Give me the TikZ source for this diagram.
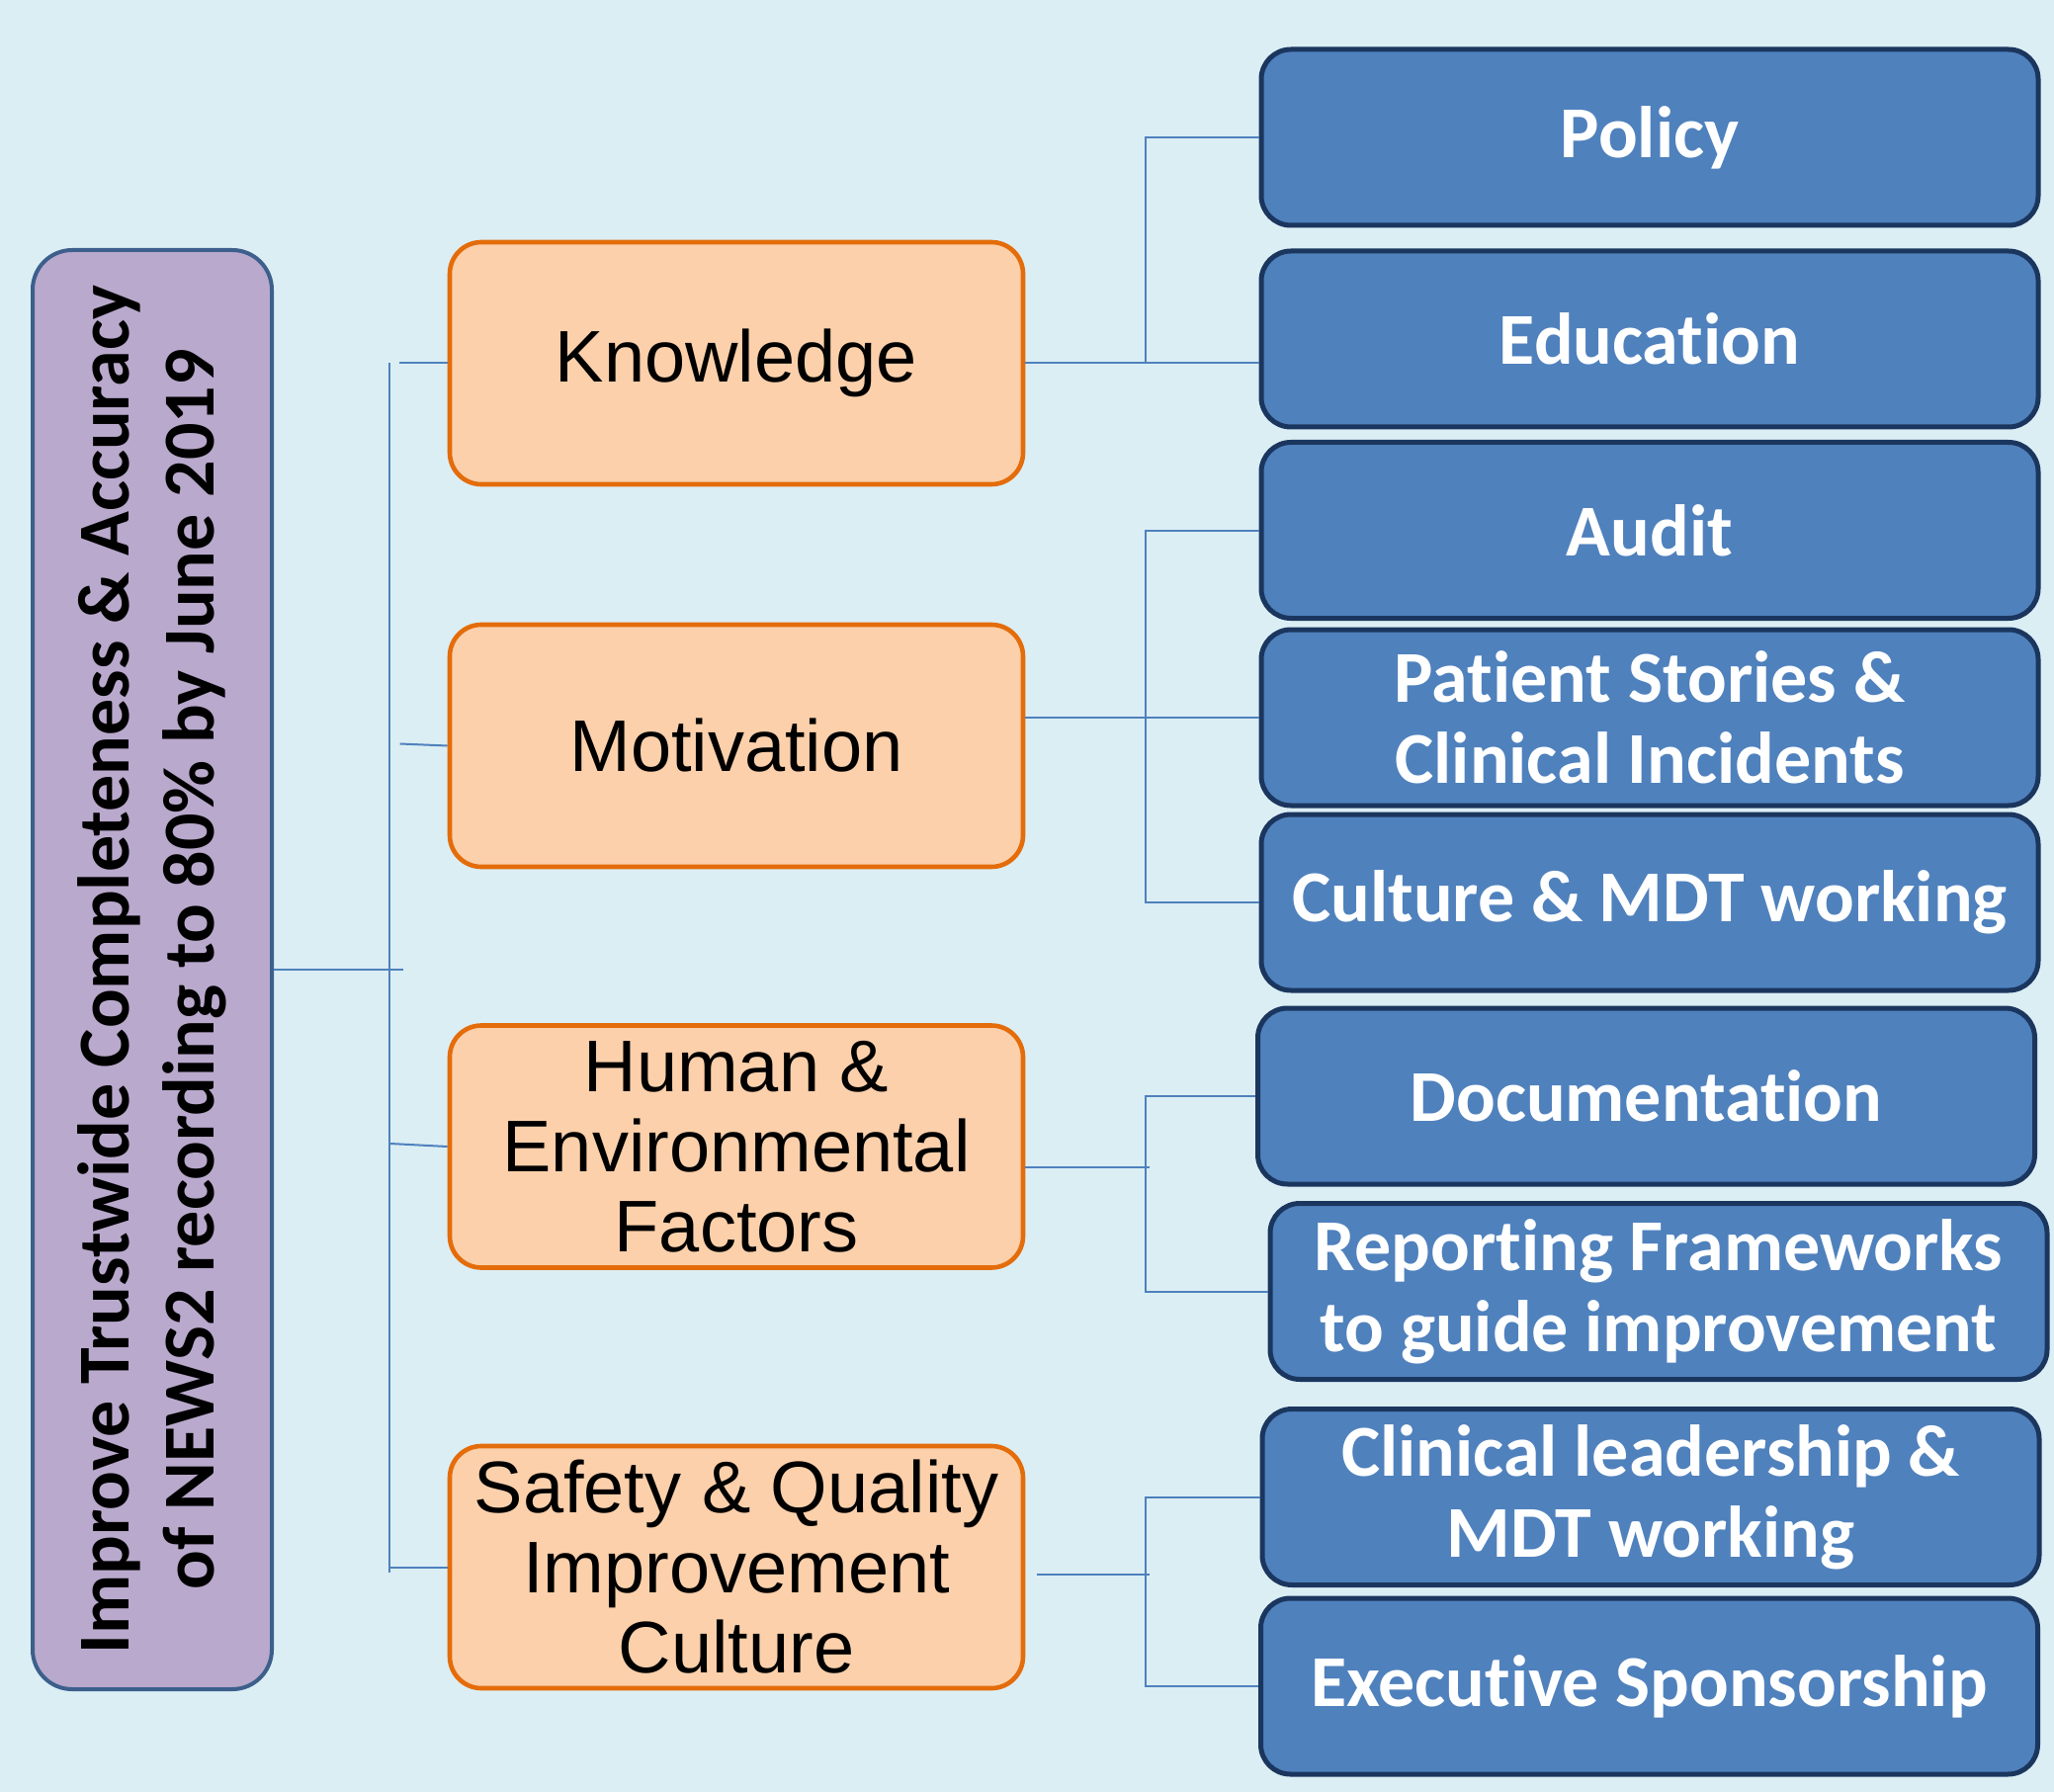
\documentclass[tikz,border=0pt]{standalone}
\usepackage{fontspec}
\setmainfont{Carlito}[Ligatures={NoCommon}]
\newfontfamily\driverfont{Liberation Sans}
\usetikzlibrary{positioning}

\definecolor{bgblue}{HTML}{DBEEF4}
\definecolor{goalfill}{HTML}{B9A9CC}
\definecolor{goaldraw}{HTML}{3C5F8C}
\definecolor{driverfill}{HTML}{FBD0AB}
\definecolor{driverdraw}{HTML}{E46C0A}
\definecolor{ideafill}{HTML}{4F81BD}
\definecolor{ideadraw}{HTML}{1B365E}
\definecolor{linkblue}{HTML}{4F81BD}

\tikzset{
  goal/.style={draw=goaldraw, fill=goalfill, line width=2pt, rounded corners=20pt,
    rotate=90, minimum width=728pt, minimum height=121pt, inner sep=0pt,
    align=center, font=\fontsize{37}{43}\selectfont\bfseries},
  driver/.style={draw=driverdraw, fill=driverfill, line width=2.3pt, rounded corners=16pt,
    minimum width=290pt, minimum height=122.5pt, inner sep=0pt,
    align=center, font=\driverfont\fontsize{37}{40.5}\selectfont},
  idea/.style={draw=ideadraw, fill=ideafill, line width=2.5pt, rounded corners=15pt,
    minimum width=393pt, minimum height=89pt, inner sep=0pt, text=white,
    align=center, font=\fontsize{37}{41}\selectfont\bfseries},
  link/.style={draw=linkblue, line width=1pt}
}

\begin{document}
\begin{tikzpicture}[x=0.5pt, y=-0.5pt]
\fill[bgblue] (0,0) rectangle (2078,1813);
\useasboundingbox (0,0) rectangle (2078,1813);

% aim
\node[goal] (goal) at (154,981) {Improve Trustwide Completeness \& Accuracy\\of NEWS2 recording to 80\% by June 2019};

% primary drivers
\node[driver] (knowledge) at (745,367.5) {Knowledge};
\node[driver] (motivation) at (745,754.5) {Motivation};
\node[driver] (human) at (745,1160) {Human \&\\Environmental\\Factors};
\node[driver] (safety) at (745,1585.5) {Safety \& Quality\\Improvement\\Culture};

% secondary drivers
\node[idea] (policy) at (1669,139) {Policy};
\node[idea] (education) at (1669,343) {Education};
\node[idea] (audit) at (1669,536.5) {Audit};
\node[idea] (patient) at (1669,726) {Patient Stories \&\\Clinical Incidents};
\node[idea] (culture) at (1669,913) {Culture \& MDT working};
\node[idea] (documentation) at (1665.5,1109) {Documentation};
\node[idea] (reporting) at (1678,1306.5) {Reporting Frameworks\\to guide improvement};
\node[idea] (clinical) at (1670,1514.5) {Clinical leadership \&\\MDT working};
\node[idea] (executive) at (1668.5,1706) {Executive Sponsorship};

% aim to primary drivers
\draw[link] (goal.south) -- ++(131,0);
\draw[link] ([xshift=-29.5pt]knowledge.west) -- ([xshift=-29.5pt,yshift=-2.75pt]safety.west);
\draw[link] (knowledge.west) -- ++(-49,0);
\draw[link] (motivation.west) -- ++(-48,-2);
\draw[link] (human.west) -- ++(-58,-3);
\draw[link] (safety.west) -- ++(-58,0);

% primary to secondary drivers
\draw[link] (knowledge.east) -- (knowledge.east -| education.west);
\draw[link] (policy.west) -- ++(-115,0) -- ++(0,228.5);

\draw[link] (motivation.east |- patient.west) -- (patient.west);
\draw[link] (audit.west) -- ++(-115,0) |- (culture.west);

\draw[link] ([yshift=-10.5pt]human.east) -- ++(126,0);
\draw[link] (documentation.west) -- ++(-111,0) |- (reporting.west);

\draw[link] ([xshift=6pt,yshift=-3.75pt]safety.east) -- ++(114,0);
\draw[link] (clinical.west) -- ++(-116,0) |- (executive.west);
\end{tikzpicture}
\end{document}
